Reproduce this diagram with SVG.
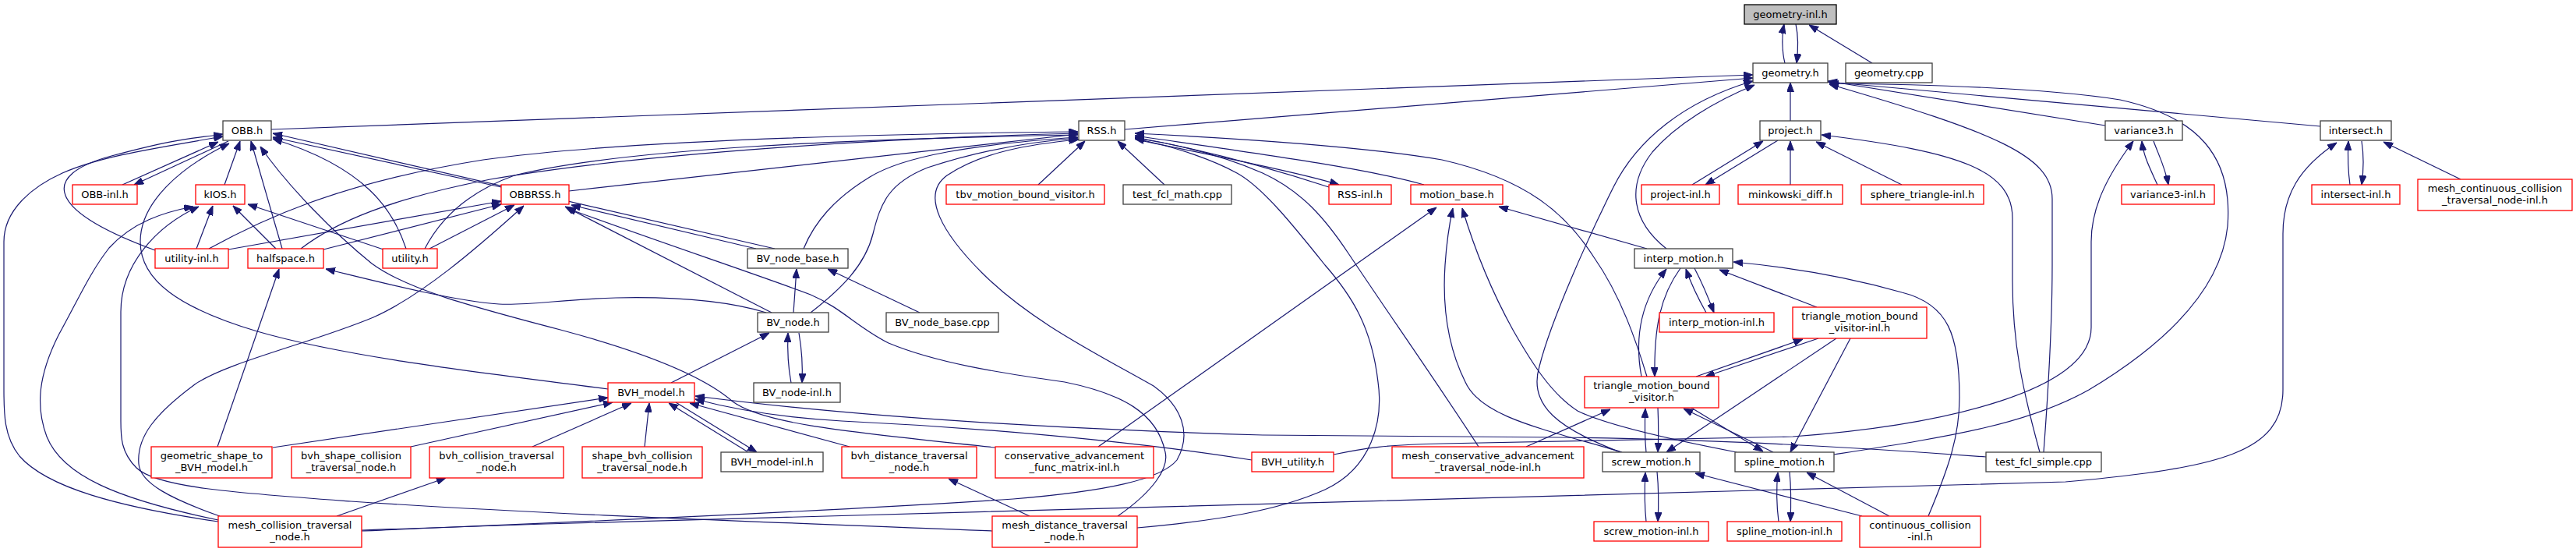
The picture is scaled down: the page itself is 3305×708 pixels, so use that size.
<svg xmlns="http://www.w3.org/2000/svg" width="3305" height="708" viewBox="0 0 3305 708">
<style>
rect{fill:#fff;stroke:#404040;stroke-width:1.3}
rect.r{stroke:#ff0000}
rect.root{fill:#bfbfbf;stroke:#000}
text{font-family:"DejaVu Sans","Liberation Sans",sans-serif;font-size:13px;text-anchor:middle;fill:#000}
#edges path{fill:none;stroke:#191970;stroke-width:1.2;marker-end:url(#a)}
</style>
<defs>
<marker id="a" viewBox="0 0 12 9" refX="12" refY="4.5" markerWidth="12" markerHeight="9" orient="auto" markerUnits="userSpaceOnUse"><path d="M0,0 L12,4.5 L0,9 z" fill="#191970" stroke="#191970" stroke-width="1"/></marker>
</defs>
<rect x="0" y="0" width="3305" height="708" style="fill:#fff;stroke:none"/>
<g id="edges">
<path d="M2290,81 C2286,65 2286,45 2289,31"/>
<path d="M2304,31 C2307,45 2307,65 2305,81"/>
<path d="M2402,81 L2321,32"/>
<path d="M2297,155 L2297,106"/>
<path d="M348,166 L2249,96"/>
<path d="M1443,166 L2249,100"/>
<path d="M2138,319 C2095,285 2085,240 2120,195 C2150,160 2200,130 2251,109"/>
<path d="M2079,580 C2000,550 1960,520 1975,470 C1990,410 2040,300 2070,240 C2100,180 2160,130 2249,104"/>
<path d="M2701,161 L2345,104"/>
<path d="M2977,162 L2345,105"/>
<path d="M2353,583 C2500,560 2600,545 2680,500 C2780,440 2850,370 2858,290 C2865,200 2820,150 2720,128 C2620,112 2450,108 2347,107"/>
<path d="M2622,580 C2628,500 2633,420 2633,340 L2633,255 C2633,200 2560,170 2347,108"/>
<path d="M2171,237 L2262,181"/>
<path d="M2281,180 L2188,237"/>
<path d="M2297,237 L2297,181"/>
<path d="M2440,237 L2330,182"/>
<path d="M2617,580 C2595,500 2582,440 2582,360 L2582,280 C2582,220 2520,195 2337,173"/>
<path d="M2768,237 C2758,215 2750,200 2748,181"/>
<path d="M2763,181 C2770,200 2778,215 2782,237"/>
<path d="M1711,583 C1750,575 1780,570 1850,569 L2300,560 C2500,545 2683,500 2683,420 L2683,310 C2683,270 2700,230 2737,181"/>
<path d="M3015,237 C3012,215 3012,200 3013,181"/>
<path d="M3030,181 C3033,200 3033,215 3030,237"/>
<path d="M3157,230 L3058,182"/>
<path d="M464,680 C520,678 560,677 700,672 L2650,618 C2850,600 2929,580 2929,500 L2929,300 C2929,250 2950,215 2998,183"/>
<path d="M157,237 L280,182"/>
<path d="M293,181 L172,237"/>
<path d="M288,237 L308,181"/>
<path d="M362,319 L322,181"/>
<path d="M199,321 C60,270 50,225 143,200 C236,175 250,178 286,172"/>
<path d="M280,669 C150,650 60,625 25,585 C5,560 5,530 5,500 L5,310 C5,270 40,240 80,222 C130,200 200,190 286,175"/>
<path d="M780,499 C650,482 450,460 330,425 C230,395 180,360 180,310 C180,260 230,215 294,184"/>
<path d="M994,319 L350,171"/>
<path d="M643,240 L350,176"/>
<path d="M521,319 C505,270 470,215 350,178"/>
<path d="M1277,574 C1100,555 980,545 940,515 C900,480 820,450 719,423 C600,392 520,370 477,338 C430,300 370,240 334,188"/>
<path d="M252,319 L273,264"/>
<path d="M354,319 L299,264"/>
<path d="M492,320 L318,262"/>
<path d="M280,667 C150,640 80,610 60,560 C45,520 50,480 75,430 C100,385 115,350 140,318 C170,285 210,272 248,265"/>
<path d="M1273,681 C1000,670 700,660 450,643 C300,632 200,625 175,600 C155,580 155,560 155,540 L155,400 C155,340 200,290 255,265"/>
<path d="M293,320 L643,258"/>
<path d="M415,320 L643,262"/>
<path d="M551,319 L660,263"/>
<path d="M282,662 C220,640 180,620 178,595 C175,560 200,530 250,493 C290,465 400,440 479,407 C540,380 610,320 672,264"/>
<path d="M970,319 L733,263"/>
<path d="M990,401 L725,265"/>
<path d="M1434,662 C1480,630 1500,600 1495,580 C1485,530 1440,505 1366,490 C1280,478 1200,465 1140,440 C1100,420 1080,395 1040,378 C980,355 850,312 727,267"/>
<path d="M268,319 C330,285 430,235 620,205 C800,180 1100,172 1383,169"/>
<path d="M386,319 C430,285 500,255 629,230 C800,200 1100,178 1383,171"/>
<path d="M545,319 C560,290 590,250 660,225 C800,190 1100,178 1383,173"/>
<path d="M730,245 L1383,172"/>
<path d="M1031,319 C1045,285 1070,255 1116,227 C1160,200 1250,185 1383,176"/>
<path d="M1040,401 C1080,370 1110,340 1120,300 C1130,260 1140,235 1190,215 C1250,195 1320,182 1383,177"/>
<path d="M464,681 C600,675 1000,660 1300,640 C1420,630 1490,615 1510,590 C1530,555 1515,520 1480,495 C1400,450 1320,410 1260,350 C1210,300 1180,250 1215,225 C1260,195 1320,185 1384,179"/>
<path d="M1332,237 L1392,181"/>
<path d="M1494,237 L1434,181"/>
<path d="M2113,483 C2100,440 2080,380 2045,330 C2010,275 1960,230 1850,205 C1750,188 1600,178 1456,171"/>
<path d="M1827,237 C1750,215 1600,195 1456,174"/>
<path d="M1705,240 C1650,222 1560,195 1456,176"/>
<path d="M1457,179 C1560,200 1670,222 1718,237"/>
<path d="M1897,573 C1850,500 1780,400 1730,325 C1700,280 1670,245 1620,222 C1570,200 1510,185 1456,177"/>
<path d="M1459,677 C1560,668 1640,655 1700,628 C1760,600 1775,540 1768,490 C1760,420 1735,380 1700,340 C1660,290 1620,240 1587,222 C1560,207 1510,188 1456,178"/>
<path d="M983,401 C940,388 880,380 790,382 C720,384 680,392 640,390 C580,386 480,360 418,345"/>
<path d="M279,573 L358,345"/>
<path d="M1018,401 L1022,345"/>
<path d="M1180,401 L1062,345"/>
<path d="M1015,491 C1011,470 1010,450 1011,427"/>
<path d="M1025,427 C1029,450 1030,470 1029,491"/>
<path d="M861,491 L987,427"/>
<path d="M350,574 L780,510"/>
<path d="M527,573 L786,516"/>
<path d="M683,573 L810,517"/>
<path d="M827,573 L833,517"/>
<path d="M960,580 L858,517"/>
<path d="M867,516 L971,580"/>
<path d="M1090,573 L885,517"/>
<path d="M1606,590 C1450,565 1250,548 1080,540 C990,535 930,522 892,512"/>
<path d="M2548,586 C2400,575 2200,563 2000,561 L1620,558 C1350,550 1100,535 892,508"/>
<path d="M432,662 L572,613"/>
<path d="M1321,662 L1217,614"/>
<path d="M1409,573 L1843,266"/>
<path d="M2081,580 C1980,550 1900,535 1880,490 C1860,450 1850,400 1854,340 C1856,310 1860,285 1864,267"/>
<path d="M2228,580 C2150,565 2060,545 2024,527 C1990,505 1965,465 1941,423 C1920,385 1895,330 1876,267"/>
<path d="M2113,319 L1923,265"/>
<path d="M2106,483 C2098,440 2102,390 2138,345"/>
<path d="M2156,344 C2130,380 2122,420 2123,483"/>
<path d="M2189,401 C2180,385 2170,365 2163,345"/>
<path d="M2174,344 C2185,365 2193,385 2199,401"/>
<path d="M2331,394 L2206,346"/>
<path d="M2474,662 C2500,600 2514,560 2514,510 C2514,430 2500,390 2440,375 C2370,355 2300,343 2224,336"/>
<path d="M1958,573 L2066,525"/>
<path d="M2112,580 C2110,560 2110,545 2111,524"/>
<path d="M2127,523 C2128,545 2128,560 2127,580"/>
<path d="M2275,580 L2160,524"/>
<path d="M2170,523 L2262,579"/>
<path d="M2333,434 L2188,483"/>
<path d="M2176,483 L2313,435"/>
<path d="M2356,434 L2138,580"/>
<path d="M2112,669 C2110,650 2110,625 2111,606"/>
<path d="M2126,605 C2128,625 2128,650 2127,669"/>
<path d="M2389,662 L2175,607"/>
<path d="M2374,434 L2297,580"/>
<path d="M2282,669 C2279,645 2279,625 2281,606"/>
<path d="M2296,605 C2298,625 2298,645 2297,669"/>
<path d="M2424,662 L2318,606"/>
</g>
<g id="geometry-inl_h"><rect class="root" x="2238" y="6" width="118" height="25"/><text x="2297" y="23">geometry-inl.h</text></g>
<g id="geometry_h"><rect x="2249" y="81" width="96" height="25"/><text x="2297" y="98">geometry.h</text></g>
<g id="geometry_cpp"><rect x="2368" y="81" width="111" height="25"/><text x="2423.5" y="98">geometry.cpp</text></g>
<g id="project_h"><rect x="2258" y="155" width="78" height="25"/><text x="2297" y="172">project.h</text></g>
<g id="OBB_h"><rect x="286" y="155" width="62" height="25"/><text x="317" y="172">OBB.h</text></g>
<g id="RSS_h"><rect x="1384" y="155" width="59" height="25"/><text x="1413.5" y="172">RSS.h</text></g>
<g id="variance3_h"><rect x="2701" y="155" width="99" height="25"/><text x="2750.5" y="172">variance3.h</text></g>
<g id="intersect_h"><rect x="2977" y="155" width="91" height="25"/><text x="3022.5" y="172">intersect.h</text></g>
<g id="OBB-inl_h"><rect class="r" x="93" y="237" width="83" height="25"/><text x="134.5" y="254">OBB-inl.h</text></g>
<g id="kIOS_h"><rect class="r" x="251" y="237" width="63" height="25"/><text x="282.5" y="254">kIOS.h</text></g>
<g id="OBBRSS_h"><rect class="r" x="643" y="237" width="87" height="25"/><text x="686.5" y="254">OBBRSS.h</text></g>
<g id="tbv_motion_bound_visitor_h"><rect class="r" x="1214" y="237" width="203" height="25"/><text x="1315.5" y="254">tbv_motion_bound_visitor.h</text></g>
<g id="test_fcl_math_cpp"><rect x="1441" y="237" width="139" height="25"/><text x="1510.5" y="254">test_fcl_math.cpp</text></g>
<g id="RSS-inl_h"><rect class="r" x="1705" y="237" width="80" height="25"/><text x="1745" y="254">RSS-inl.h</text></g>
<g id="motion_base_h"><rect class="r" x="1810" y="237" width="118" height="25"/><text x="1869" y="254">motion_base.h</text></g>
<g id="project-inl_h"><rect class="r" x="2106" y="237" width="100" height="25"/><text x="2156" y="254">project-inl.h</text></g>
<g id="minkowski_diff_h"><rect class="r" x="2230" y="237" width="134" height="25"/><text x="2297" y="254">minkowski_diff.h</text></g>
<g id="sphere_triangle-inl_h"><rect class="r" x="2388" y="237" width="157" height="25"/><text x="2466.5" y="254">sphere_triangle-inl.h</text></g>
<g id="variance3-inl_h"><rect class="r" x="2722" y="237" width="119" height="25"/><text x="2781.5" y="254">variance3-inl.h</text></g>
<g id="intersect-inl_h"><rect class="r" x="2966" y="237" width="113" height="25"/><text x="3022.5" y="254">intersect-inl.h</text></g>
<g id="mesh_continuous_collision_traversal_node-inl_h"><rect class="r" x="3102" y="230" width="198" height="40"/><text x="3201" y="246">mesh_continuous_collision</text><text x="3201" y="261">_traversal_node-inl.h</text></g>
<g id="utility-inl_h"><rect class="r" x="199" y="319" width="94" height="25"/><text x="246" y="336">utility-inl.h</text></g>
<g id="halfspace_h"><rect class="r" x="318" y="319" width="97" height="25"/><text x="366.5" y="336">halfspace.h</text></g>
<g id="utility_h"><rect class="r" x="491" y="319" width="70" height="25"/><text x="526" y="336">utility.h</text></g>
<g id="BV_node_base_h"><rect x="959" y="319" width="129" height="25"/><text x="1023.5" y="336">BV_node_base.h</text></g>
<g id="interp_motion_h"><rect x="2097" y="319" width="126" height="25"/><text x="2160" y="336">interp_motion.h</text></g>
<g id="BV_node_h"><rect x="972" y="401" width="91" height="25"/><text x="1017.5" y="418">BV_node.h</text></g>
<g id="BV_node_base_cpp"><rect x="1137" y="401" width="144" height="25"/><text x="1209" y="418">BV_node_base.cpp</text></g>
<g id="interp_motion-inl_h"><rect class="r" x="2129" y="401" width="147" height="25"/><text x="2202.5" y="418">interp_motion-inl.h</text></g>
<g id="triangle_motion_bound_visitor-inl_h"><rect class="r" x="2300" y="394" width="172" height="40"/><text x="2386" y="410">triangle_motion_bound</text><text x="2386" y="425">_visitor-inl.h</text></g>
<g id="BV_node-inl_h"><rect x="967" y="491" width="111" height="25"/><text x="1022.5" y="508">BV_node-inl.h</text></g>
<g id="BVH_model_h"><rect class="r" x="780" y="491" width="111" height="25"/><text x="835.5" y="508">BVH_model.h</text></g>
<g id="triangle_motion_bound_visitor_h"><rect class="r" x="2033" y="483" width="172" height="40"/><text x="2119" y="499">triangle_motion_bound</text><text x="2119" y="514">_visitor.h</text></g>
<g id="geometric_shape_to_BVH_model_h"><rect class="r" x="194" y="573" width="155" height="40"/><text x="271.5" y="589">geometric_shape_to</text><text x="271.5" y="604">_BVH_model.h</text></g>
<g id="bvh_shape_collision_traversal_node_h"><rect class="r" x="374" y="573" width="153" height="40"/><text x="450.5" y="589">bvh_shape_collision</text><text x="450.5" y="604">_traversal_node.h</text></g>
<g id="bvh_collision_traversal_node_h"><rect class="r" x="551" y="573" width="172" height="40"/><text x="637" y="589">bvh_collision_traversal</text><text x="637" y="604">_node.h</text></g>
<g id="shape_bvh_collision_traversal_node_h"><rect class="r" x="747" y="573" width="154" height="40"/><text x="824" y="589">shape_bvh_collision</text><text x="824" y="604">_traversal_node.h</text></g>
<g id="BVH_model-inl_h"><rect x="925" y="580" width="131" height="25"/><text x="990.5" y="597">BVH_model-inl.h</text></g>
<g id="bvh_distance_traversal_node_h"><rect class="r" x="1080" y="573" width="173" height="40"/><text x="1166.5" y="589">bvh_distance_traversal</text><text x="1166.5" y="604">_node.h</text></g>
<g id="conservative_advancement_func_matrix-inl_h"><rect class="r" x="1277" y="573" width="203" height="40"/><text x="1378.5" y="589">conservative_advancement</text><text x="1378.5" y="604">_func_matrix-inl.h</text></g>
<g id="BVH_utility_h"><rect class="r" x="1606" y="580" width="105" height="25"/><text x="1658.5" y="597">BVH_utility.h</text></g>
<g id="mesh_conservative_advancement_traversal_node-inl_h"><rect class="r" x="1786" y="573" width="246" height="40"/><text x="1909" y="589">mesh_conservative_advancement</text><text x="1909" y="604">_traversal_node-inl.h</text></g>
<g id="screw_motion_h"><rect x="2056" y="580" width="125" height="25"/><text x="2118.5" y="597">screw_motion.h</text></g>
<g id="spline_motion_h"><rect x="2226" y="580" width="127" height="25"/><text x="2289.5" y="597">spline_motion.h</text></g>
<g id="test_fcl_simple_cpp"><rect x="2548" y="580" width="148" height="25"/><text x="2622" y="597">test_fcl_simple.cpp</text></g>
<g id="mesh_collision_traversal_node_h"><rect class="r" x="280" y="662" width="184" height="40"/><text x="372" y="678">mesh_collision_traversal</text><text x="372" y="693">_node.h</text></g>
<g id="mesh_distance_traversal_node_h"><rect class="r" x="1273" y="662" width="186" height="40"/><text x="1366" y="678">mesh_distance_traversal</text><text x="1366" y="693">_node.h</text></g>
<g id="screw_motion-inl_h"><rect class="r" x="2045" y="669" width="147" height="25"/><text x="2118.5" y="686">screw_motion-inl.h</text></g>
<g id="spline_motion-inl_h"><rect class="r" x="2216" y="669" width="147" height="25"/><text x="2289.5" y="686">spline_motion-inl.h</text></g>
<g id="continuous_collision-inl_h"><rect class="r" x="2386" y="662" width="155" height="40"/><text x="2463.5" y="678">continuous_collision</text><text x="2463.5" y="693">-inl.h</text></g>
</svg>
